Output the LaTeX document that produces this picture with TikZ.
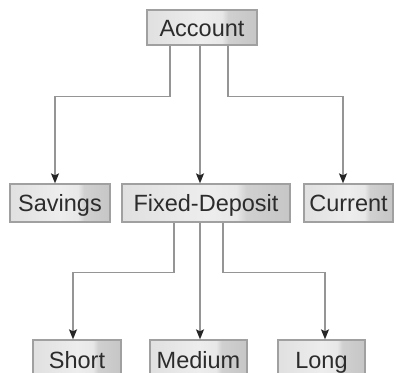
\documentclass[tikz,border=0pt]{standalone}
\usepackage{fontspec}
\setmainfont{Liberation Sans}
\usetikzlibrary{arrows.meta}
\definecolor{ca}{HTML}{E0E0E0}
\definecolor{cb}{HTML}{EDEDED}
\definecolor{cc}{HTML}{E8E8E8}
\definecolor{cd}{HTML}{D0D0D0}
\definecolor{ce}{HTML}{C6C6C6}
\definecolor{bordergray}{HTML}{A0A0A0}
\definecolor{linegray}{HTML}{959595}
\definecolor{tipgray}{HTML}{262626}
\definecolor{txt}{HTML}{2C2C2C}
\pgfdeclarehorizontalshading{boxshade}{100bp}{color(0bp)=(ca); color(25bp)=(ca); color(50bp)=(cb); color(59bp)=(cc); color(62bp)=(cd); color(75bp)=(ce); color(100bp)=(ce)}
\tikzset{
  box/.style={draw=bordergray, line width=1.3pt, shading=boxshade, shading angle=0,
    inner sep=0pt, text height=18pt, text depth=0pt, text=txt,
    font=\fontsize{23.5}{26}\selectfont},
  conn/.style={draw=linegray, line width=1.4pt,
    -{Stealth[length=10pt,width=8pt,inset=2pt,color=tipgray]}}
}
\begin{document}
\begin{tikzpicture}[x=1pt,y=1pt]
\useasboundingbox (0,0) rectangle (396,372);
\clip (0,0) rectangle (396,372);
\fill[white] (0,0) rectangle (396,372);
\node[box, minimum width=110pt, minimum height=35pt] (acc) at (202,344.5) {Account};
\node[box, minimum width=100pt, minimum height=38pt] (sav) at (60,169) {Savings};
\node[box, minimum width=168pt, minimum height=38pt] (fd) at (206,169) {Fixed-Deposit};
\node[box, minimum width=89pt, minimum height=38pt] (cur) at (348.5,169) {Current};
\node[box, minimum width=88pt, minimum height=38pt] (sho) at (77,13) {Short};
\node[box, minimum width=97pt, minimum height=38pt] (med) at (198.5,13) {Medium};
\node[box, minimum width=87pt, minimum height=38pt] (lon) at (321.5,13) {Long};
\draw[conn] ([xshift=-32pt]acc.south) -- ++(0,-51) -| ([xshift=-5pt]sav.north);
\draw[conn] ([xshift=-2pt]acc.south) -- ([xshift=-6pt]fd.north);
\draw[conn] ([xshift=26pt]acc.south) -- ++(0,-51) -| ([xshift=-5.5pt]cur.north);
\draw[conn] ([xshift=-32pt]fd.south) -- ++(0,-50) -| ([xshift=-4pt]sho.north);
\draw[conn] ([xshift=-6pt]fd.south) -- ([xshift=1.5pt]med.north);
\draw[conn] ([xshift=17pt]fd.south) -- ++(0,-50) -| ([xshift=3.5pt]lon.north);
\end{tikzpicture}
\end{document}
